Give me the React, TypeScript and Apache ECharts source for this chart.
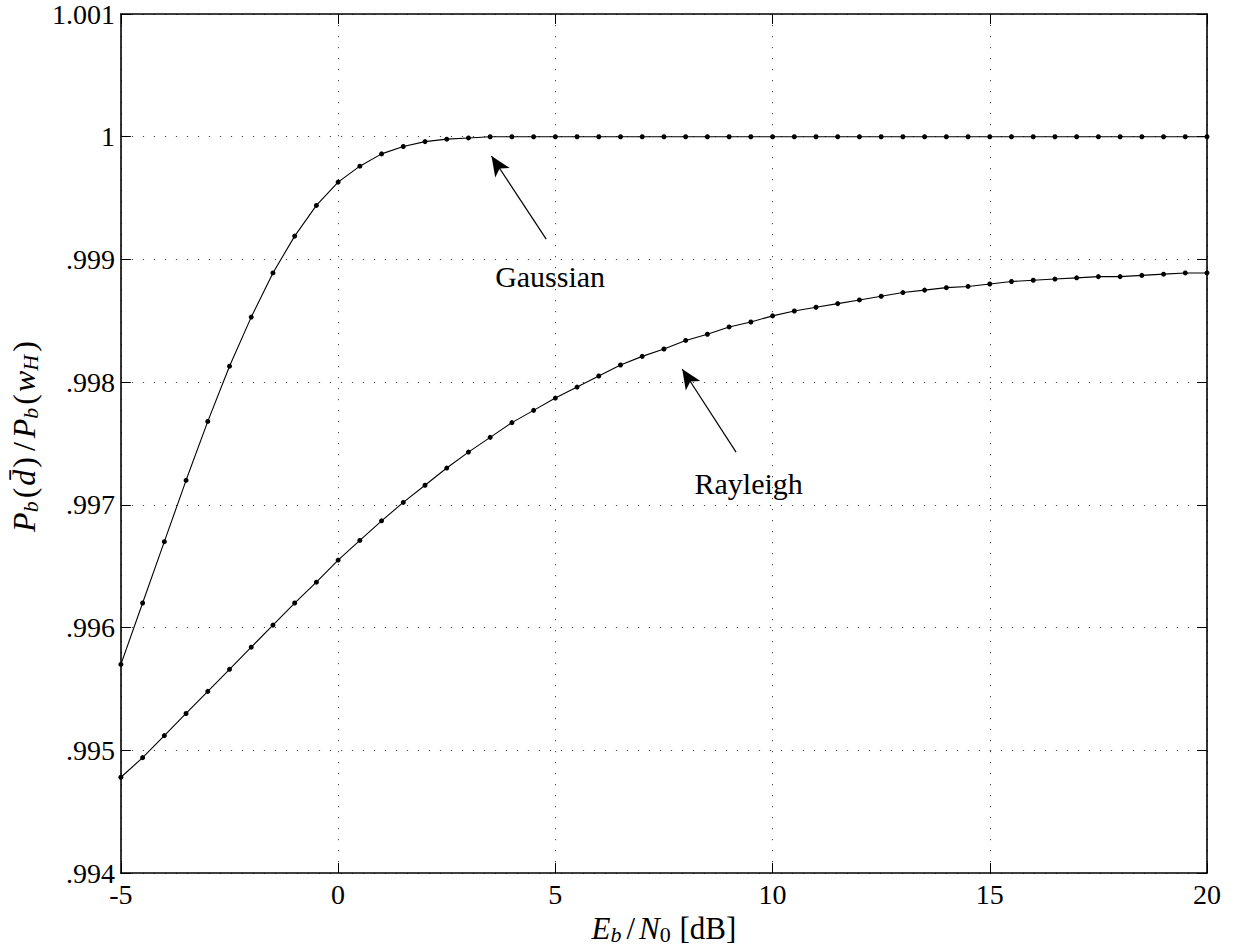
import React, { useEffect, useRef } from "react";
import * as echarts from "echarts";

const ebn0 = [
  -5, -4.5, -4, -3.5, -3, -2.5, -2, -1.5, -1, -0.5, 0, 0.5, 1, 1.5, 2, 2.5, 3, 3.5, 4, 4.5,
  5, 5.5, 6, 6.5, 7, 7.5, 8, 8.5, 9, 9.5, 10, 10.5, 11, 11.5, 12, 12.5, 13, 13.5, 14, 14.5,
  15, 15.5, 16, 16.5, 17, 17.5, 18, 18.5, 19, 19.5, 20,
];

const gaussian = [
  0.9957, 0.9962, 0.9967, 0.9972, 0.99768, 0.99813, 0.99853, 0.99889, 0.99919, 0.99944,
  0.99963, 0.99976, 0.99986, 0.99992, 0.99996, 0.99998, 0.99999, 1.0, 1.0, 1.0,
  1.0, 1.0, 1.0, 1.0, 1.0, 1.0, 1.0, 1.0, 1.0, 1.0,
  1.0, 1.0, 1.0, 1.0, 1.0, 1.0, 1.0, 1.0, 1.0, 1.0,
  1.0, 1.0, 1.0, 1.0, 1.0, 1.0, 1.0, 1.0, 1.0, 1.0, 1.0,
];

const rayleigh = [
  0.99478, 0.99494, 0.99512, 0.9953, 0.99548, 0.99566, 0.99584, 0.99602, 0.9962, 0.99637,
  0.99655, 0.99671, 0.99687, 0.99702, 0.99716, 0.9973, 0.99743, 0.99755, 0.99767, 0.99777,
  0.99787, 0.99796, 0.99805, 0.99814, 0.99821, 0.99827, 0.99834, 0.99839, 0.99845, 0.99849,
  0.99854, 0.99858, 0.99861, 0.99864, 0.99867, 0.9987, 0.99873, 0.99875, 0.99877, 0.99878,
  0.9988, 0.99882, 0.99883, 0.99884, 0.99885, 0.99886, 0.99886, 0.99887, 0.99888, 0.99889,
  0.99889,
];

const xRange = { min: -5, max: 20, interval: 5 };
const yRange = { min: 0.994, max: 1.001, interval: 0.001 };

// annotation anchors (data coordinates)
const gaussArrow = { from: [4.79, 0.999166], to: [3.53, 0.999843] };
const rayArrow = { from: [9.16, 0.99743], to: [7.92, 0.998107] };
const gaussLabel = { text: "Gaussian", at: [4.88, 0.998857] };
const rayLabel = { text: "Rayleigh", at: [9.45, 0.997178] };

const FONT = "Liberation Serif";

function fmtY(v: number) {
  const r = Math.round(v * 1000) / 1000;
  if (r === 1) return "1";
  if (r > 1) return r.toFixed(3);
  return r.toFixed(3).replace(/^0/, "");
}

export default function App() {
  const ref = useRef<HTMLDivElement>(null);
  useEffect(() => {
    if (!ref.current) return;
    const chart = echarts.init(ref.current, null, { renderer: "svg" });
    const tickStyle = { inside: true, length: 10, lineStyle: { color: "#000", width: 1 } };
    const axisLine = { show: true, onZero: false, lineStyle: { color: "#000", width: 1.6 } };
    const split = { show: true, lineStyle: { color: "#444", width: 1, type: [1.2, 9.8] as any } };
    const mk = (size: number, sub: number) => ({
      i: { fontFamily: FONT, fontStyle: "italic", fontSize: size, color: "#000" },
      r: { fontFamily: FONT, fontSize: size, color: "#000" },
      sl: { fontFamily: FONT, fontSize: size, color: "#000", padding: [0, 4, 0, 4] },
      p: { fontFamily: FONT, fontSize: size, color: "#000", padding: [0, 2, 0, 2] },
      s: { fontFamily: FONT, fontStyle: "italic", fontSize: sub, color: "#000", verticalAlign: "bottom", padding: [12, 1, 0, 0] },
      sr: { fontFamily: FONT, fontSize: sub, color: "#000", verticalAlign: "bottom", padding: [12, 1, 0, 0] },
    });
    const lineSeries = (name: string, vals: number[], extra: any) => ({
      name,
      type: "line",
      data: ebn0.map((x, i) => [x, vals[i]]),
      symbol: "circle",
      symbolSize: 5,
      showSymbol: true,
      itemStyle: { color: "#000" },
      lineStyle: { color: "#000", width: 1.1 },
      silent: true,
      ...extra,
    });
    const arrow = (a: { from: number[]; to: number[] }) => ({
      silent: true,
      symbol: ["none", "arrow"],
      symbolSize: [13, 20],
      label: { show: false },
      lineStyle: { color: "#000", width: 1.2, type: "solid" },
      data: [[{ coord: a.from }, { coord: a.to }]],
    });
    const label = (l: { text: string; at: number[] }) => ({
      silent: true,
      symbol: "circle",
      symbolSize: 0,
      label: {
        show: true,
        position: "inside",
        formatter: l.text,
        fontFamily: FONT,
        fontSize: 30,
        color: "#000",
      },
      data: [{ coord: l.at, name: l.text }],
    });
    chart.setOption({
      animation: false,
      backgroundColor: "#fff",
      grid: { left: 118, right: 28, top: 14, bottom: 79, containLabel: false },
      xAxis: [
        {
          type: "value",
          ...xRange,
          position: "bottom",
          axisLine,
          axisTick: tickStyle,
          splitLine: split,
          axisLabel: { fontFamily: FONT, fontSize: 28, color: "#000", margin: 7 },
          name: "{i|E}{s|b}{sl|/}{i|N}{sr|0}{r| [dB]}",
          nameLocation: "middle",
          nameGap: 28,
          nameTextStyle: { rich: mk(31, 22) },
        },
        {
          type: "value",
          ...xRange,
          position: "top",
          axisLine,
          axisTick: tickStyle,
          splitLine: { show: false },
          axisLabel: { show: false },
        },
      ],
      yAxis: [
        {
          type: "value",
          ...yRange,
          position: "left",
          axisLine,
          axisTick: tickStyle,
          splitLine: split,
          axisLabel: { fontFamily: FONT, fontSize: 28, color: "#000", margin: 6, formatter: fmtY },
          name: "{i|P}{s|b}{p|(}{i|d\u0304}{p|)}{sl|/}{i|P}{s|b}{p|(}{i|w}{s|H}{p|)}",
          nameLocation: "middle",
          nameGap: 68,
          nameRotate: 90,
          nameTextStyle: { rich: mk(32, 22), padding: [0, 0, 0, 16] },
        },
        {
          type: "value",
          ...yRange,
          position: "right",
          axisLine,
          axisTick: tickStyle,
          splitLine: { show: false },
          axisLabel: { show: false },
        },
      ],
      series: [
        lineSeries("Gaussian", gaussian, { markLine: arrow(gaussArrow), markPoint: label(gaussLabel) }),
        lineSeries("Rayleigh", rayleigh, { markLine: arrow(rayArrow), markPoint: label(rayLabel) }),
      ],
    });
    return () => chart.dispose();
  }, []);
  return (
    <div
      ref={ref}
      style={{ position: "absolute", left: 0, top: 0, width: 1235, height: 952, background: "#fff" }}
    />
  );
}
